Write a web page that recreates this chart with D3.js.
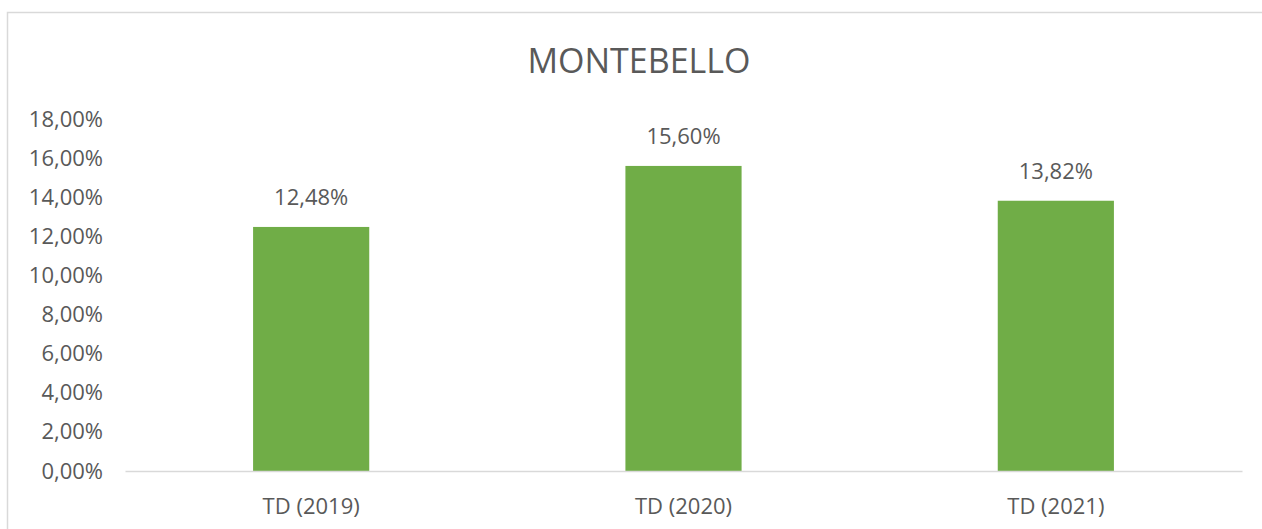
<!DOCTYPE html>
<html><head><meta charset="utf-8">
<script src="https://cdn.jsdelivr.net/npm/d3@7"></script>
<style>html,body{margin:0;padding:0;background:#fff;}</style>
</head><body>
<svg id="c" width="1262" height="529"></svg>
<script>
const categories = ["TD (2019)", "TD (2020)", "TD (2021)"];
const values = [12.48, 15.60, 13.82];
const yTicks = [0, 2, 4, 6, 8, 10, 12, 14, 16, 18];
const title = "MONTEBELLO";

const fmt = v => d3.format(".2f")(v).replace(".", ",") + "%";
const svg = d3.select("#c");
const FONT = "'Open Sans', sans-serif";
const TXT = "#595959";
const FS = 22;

// chart border
svg.append("path").attr("d", "M7.5,529 V12.5 H1262")
  .attr("fill", "none").attr("stroke", "#d9d9d9").attr("stroke-width", 1.5);

const x = d3.scaleBand().domain(categories).range([125, 1242]).paddingInner(0.688).paddingOuter(0.344);
const y = d3.scaleLinear().domain([0, 18]).range([471, 119]);

svg.append("text").attr("x", 639).attr("y", 73).attr("text-anchor", "middle")
  .attr("font-family", FONT).attr("font-size", 34).attr("fill", TXT).text(title);

const yAxis = d3.axisLeft(y).tickValues(yTicks).tickFormat(fmt).tickSize(0).tickPadding(0);
const gy = svg.append("g").attr("transform", "translate(103,0)").call(yAxis);
gy.select(".domain").remove();
gy.selectAll("text").attr("font-family", FONT).attr("font-size", FS).attr("fill", TXT);

svg.selectAll("rect.bar").data(values).enter().append("rect").attr("class", "bar")
  .attr("x", (d, i) => x(categories[i])).attr("width", x.bandwidth())
  .attr("y", d => y(d)).attr("height", d => y(0) - y(d)).attr("fill", "#70ad47");

const xAxis = d3.axisBottom(x).tickSize(0).tickPadding(27);
const gx = svg.append("g").attr("transform", `translate(0,${y(0)})`).call(xAxis);
gx.select(".domain").attr("stroke", "#d9d9d9").attr("stroke-width", 1.5);
gx.selectAll("text").attr("font-family", FONT).attr("font-size", FS).attr("fill", TXT);

svg.selectAll("text.lbl").data(values).enter().append("text").attr("class", "lbl")
  .attr("x", (d, i) => x(categories[i]) + x.bandwidth() / 2)
  .attr("y", d => y(d) - 22).attr("text-anchor", "middle")
  .attr("font-family", FONT).attr("font-size", FS).attr("fill", TXT).text(d => fmt(d));
</script>
</body></html>
